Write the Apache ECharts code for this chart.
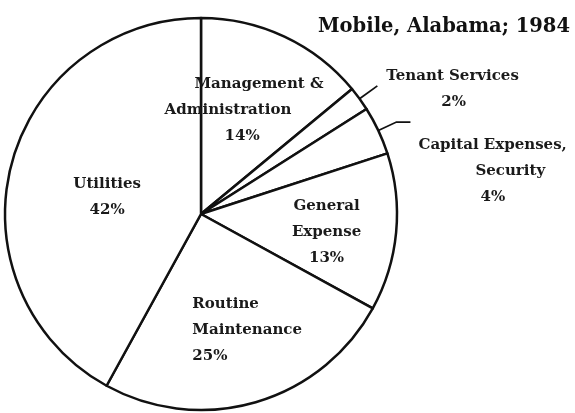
<!DOCTYPE html>
<html>
<head>
<meta charset="utf-8">
<script src="https://cdn.jsdelivr.net/npm/echarts@6/dist/echarts.min.js"></script>
<style>
  html, body { margin: 0; padding: 0; background: #fff; }
  #chart { width: 575px; height: 413px; }
</style>
</head>
<body>
<div id="chart"></div>
<script>
// budget shares, clockwise from 12 o'clock
var categories = ['Management &\nAdministration', 'Tenant Services', 'Capital Expenses,\nSecurity',
                  'General\nExpense', 'Routine\nMaintenance', 'Utilities'];
var shares = [14, 2, 4, 13, 25, 42];
var title = 'Mobile, Alabama; 1984';

// rich style key for each label line (name lines, then the percent)
var lineKeys = [
    ['m1', 'm2', 'm3'],
    ['t1', 't2'],
    ['c1', 'c2', 'c3'],
    ['c', 'c', 'c'],
    ['l', 'l', 'l'],
    ['c', 'c']
];
// nudges for the labels that sit inside the slices
var labelShift = { 0: [0, -13], 3: [25, 9], 4: [18, 19], 5: [4, 8] };

var font = 'DejaVu Serif';
function tok(extra) {
    return Object.assign({ fontFamily: font, fontSize: 15, fontWeight: 'bold', color: '#1a1a1a', lineHeight: 26 }, extra);
}

var chart = echarts.init(document.getElementById('chart'));

var data = categories.map(function (name, i) {
    var item = { name: name, value: shares[i] };
    if (i === 1) {
        item.label = { position: 'outside', distanceToLabelLine: 9, padding: [6, 0, 0, 0] };
        item.labelLine = { show: true, length: 22, length2: 0 };
    }
    if (i === 2) {
        item.label = { position: 'outside', distanceToLabelLine: 8, padding: [98, 0, 0, 0] };
        item.labelLine = { show: true, length: 20, length2: 14 };
    }
    return item;
});

chart.setOption({
    animation: false,
    title: {
        text: title,
        right: 0,
        top: 12,
        textStyle: { fontFamily: font, fontSize: 19.5, fontWeight: 'bold', color: '#111' }
    },
    series: [{
        type: 'pie',
        center: [201, 214],
        radius: [0, 196],
        startAngle: 90,
        clockwise: true,
        avoidLabelOverlap: false,
        itemStyle: { color: '#fff', borderColor: '#111', borderWidth: 2.5 },
        emphasis: { disabled: true },
        label: {
            show: true,
            position: 'inside',
            formatter: function (p) {
                var lines = p.name.split('\n').concat(p.value + '%');
                return lines.map(function (s, k) {
                    return '{' + lineKeys[p.dataIndex][k] + '|' + s + '}';
                }).join('\n');
            },
            rich: {
                m1: tok({ align: 'left', padding: [0, 0, 0, 30] }),
                m2: tok({ align: 'left' }),
                m3: tok({ align: 'left', padding: [0, 0, 0, 60] }),
                t1: tok({}),
                t2: tok({ padding: [0, 0, 0, 55] }),
                c1: tok({}),
                c2: tok({ padding: [0, 0, 0, 57] }),
                c3: tok({ padding: [0, 0, 0, 62] }),
                c: tok({ align: 'center' }),
                l: tok({ align: 'left' })
            }
        },
        labelLine: { show: false, lineStyle: { color: '#111', width: 1.8 } },
        labelLayout: function (p) {
            var s = labelShift[p.dataIndex];
            return s ? { dx: s[0], dy: s[1] } : {};
        },
        data: data
    }]
});
</script>
</body>
</html>
